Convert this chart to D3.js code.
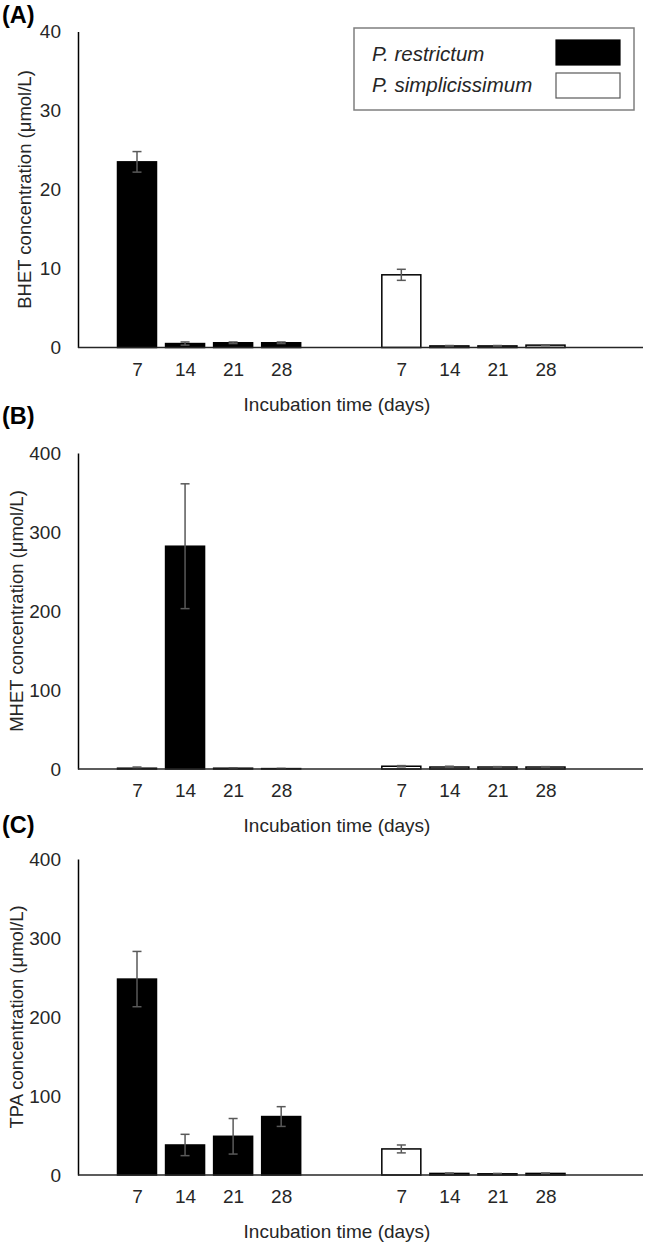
<!DOCTYPE html>
<html>
<head>
<meta charset="utf-8">
<script src="https://cdn.jsdelivr.net/npm/d3@7"></script>
<style>
  body { margin: 0; background: #fff; }
  svg { display: block; font-family: "Liberation Sans", Arial, sans-serif; }
</style>
</head>
<body>
<div id="vis"></div>
<script>
const days = ["7", "14", "21", "28"];
const species = ["P. restrictum", "P. simplicissimum"];

// values (µmol/L), mean and error
const bhetRestrictum = [23.5, 0.5, 0.6, 0.6];
const bhetRestrictumErr = [1.3, 0.2, 0.1, 0.1];
const bhetSimplicissimum = [9.2, 0.2, 0.2, 0.3];
const bhetSimplicissimumErr = [0.7, 0.05, 0.05, 0.05];

const mhetRestrictum = [1.0, 282, 1.0, 0.5];
const mhetRestrictumErr = [1.5, 79, 0.6, 0.3];
const mhetSimplicissimum = [3.5, 2.5, 2.5, 2.5];
const mhetSimplicissimumErr = [0.8, 1.0, 0.5, 0.5];

const tpaRestrictum = [248, 38, 49, 74];
const tpaRestrictumErr = [35, 13.5, 22.5, 12.5];
const tpaSimplicissimum = [33, 2, 1.5, 2];
const tpaSimplicissimumErr = [5, 0.5, 0.5, 0.5];

const panels = [
    { tag: "(A)", ylabel: "BHET concentration (\u03bcmol/L)", ymax: 40, ticks: [0, 10, 20, 30, 40],
      top: 31.5, tagY: 23, labelX: 31, series: [[bhetRestrictum, bhetRestrictumErr], [bhetSimplicissimum, bhetSimplicissimumErr]] },
    { tag: "(B)", ylabel: "MHET concentration (\u03bcmol/L)", ymax: 400, ticks: [0, 100, 200, 300, 400],
      top: 453, tagY: 424, labelX: 23, series: [[mhetRestrictum, mhetRestrictumErr], [mhetSimplicissimum, mhetSimplicissimumErr]] },
    { tag: "(C)", ylabel: "TPA concentration (\u03bcmol/L)", ymax: 400, ticks: [0, 100, 200, 300, 400],
      top: 859, tagY: 833, labelX: 23, series: [[tpaRestrictum, tpaRestrictumErr], [tpaSimplicissimum, tpaSimplicissimumErr]] }
];

const W = 645, H = 1246;
const axisLeft = 78, axisRight = 643;
const plotH = 316;
const barW = 39;
const fills = ["#000", "#fff"];

const svg = d3.select("#vis")
    .append("svg")
    .attr("width", W)
    .attr("height", H);

// slot position: 4 bars per species, species group offset by 5.5 slots
const slot = (g, i) => i + g * 5.5;
const x = d3.scaleLinear()
    .domain([0, 8.5])
    .range([137, 545.5]);

panels.forEach(p => {
    const y = d3.scaleLinear()
        .domain([0, p.ymax])
        .range([p.top + plotH, p.top]);
    const base = y(0);

    const g = svg.append("g");

    const bars = [];
    p.series.forEach(([vals, errs], si) => {
        vals.forEach((v, i) => bars.push({ s: si, i: i, v: v, e: errs[i] }));
    });

    g.selectAll("rect.bar")
        .data(bars)
        .enter()
        .append("rect")
        .attr("class", "bar")
        .attr("x", d => x(slot(d.s, d.i)) - barW / 2)
        .attr("width", barW)
        .attr("y", d => y(d.v))
        .attr("height", d => base - y(d.v))
        .attr("fill", d => fills[d.s])
        .attr("stroke", "#000")
        .attr("stroke-width", 1.5);

    // error bars
    const eb = g.selectAll("g.err")
        .data(bars)
        .enter()
        .append("g")
        .attr("class", "err")
        .attr("stroke", "#595959")
        .attr("stroke-width", 1.5);
    eb.append("line")
        .attr("x1", d => x(slot(d.s, d.i)))
        .attr("x2", d => x(slot(d.s, d.i)))
        .attr("y1", d => y(d.v + d.e))
        .attr("y2", d => y(Math.max(0, d.v - d.e)));
    [1, -1].forEach(sign => {
        eb.append("line")
            .attr("x1", d => x(slot(d.s, d.i)) - 4.5)
            .attr("x2", d => x(slot(d.s, d.i)) + 4.5)
            .attr("y1", d => y(Math.max(0, d.v + sign * d.e)))
            .attr("y2", d => y(Math.max(0, d.v + sign * d.e)));
    });

    // y axis
    const yAxis = g.append("g")
        .attr("transform", `translate(${axisLeft},0)`)
        .call(d3.axisLeft(y).tickValues(p.ticks).tickSize(0).tickPadding(17));
    yAxis.select(".domain").attr("stroke", "#000").attr("stroke-width", 1.5);
    yAxis.selectAll("text")
        .style("font-size", "19px")
        .attr("fill", "#262626")
        .style("font-family", "'Liberation Sans', Arial, sans-serif");

    // x axis line
    g.append("line")
        .attr("x1", axisLeft)
        .attr("x2", axisRight)
        .attr("y1", base)
        .attr("y2", base)
        .attr("stroke", "#262626")
        .attr("stroke-width", 1.5);

    const slots = [];
    species.forEach((s, si) => days.forEach((d, i) => slots.push({ pos: slot(si, i), label: d })));
    const xAxis = g.append("g")
        .attr("transform", `translate(0,${base})`)
        .call(d3.axisBottom(x)
            .tickValues(slots.map(d => d.pos))
            .tickFormat((d, i) => slots[i].label)
            .tickSize(0)
            .tickPadding(15));
    xAxis.select(".domain").remove();
    xAxis.selectAll("text")
        .style("font-size", "19px")
        .attr("fill", "#262626")
        .style("font-family", "'Liberation Sans', Arial, sans-serif");

    g.append("text")
        .attr("x", 337)
        .attr("y", base + 63)
        .attr("text-anchor", "middle")
        .attr("fill", "#262626")
        .style("font-size", "19px")
        .text("Incubation time (days)");

    g.append("text")
        .attr("transform", `translate(${p.labelX},${p.top + plotH / 2}) rotate(-90)`)
        .attr("text-anchor", "middle")
        .attr("fill", "#262626")
        .style("font-size", "18.5px")
        .text(p.ylabel);

    g.append("text")
        .attr("x", 2)
        .attr("y", p.tagY)
        .style("font-size", "23.5px")
        .style("font-weight", "bold")
        .text(p.tag);
});

// legend (panel A)
const legend = svg.append("g");
legend.append("rect")
    .attr("x", 354)
    .attr("y", 28)
    .attr("width", 280)
    .attr("height", 82)
    .attr("fill", "#fff")
    .attr("stroke", "#7f7f7f")
    .attr("stroke-width", 1.5);

species.forEach((s, i) => {
    legend.append("text")
        .attr("x", 372)
        .attr("y", 61 + i * 31)
        .attr("fill", "#262626")
        .style("font-size", "20.5px")
        .style("font-style", "italic")
        .text(s);
    legend.append("rect")
        .attr("x", 556)
        .attr("y", 40 + i * 33)
        .attr("width", 64)
        .attr("height", 25)
        .attr("fill", fills[i])
        .attr("stroke", i === 0 ? "#000" : "#595959")
        .attr("stroke-width", 1.2);
});
</script>
</body>
</html>
